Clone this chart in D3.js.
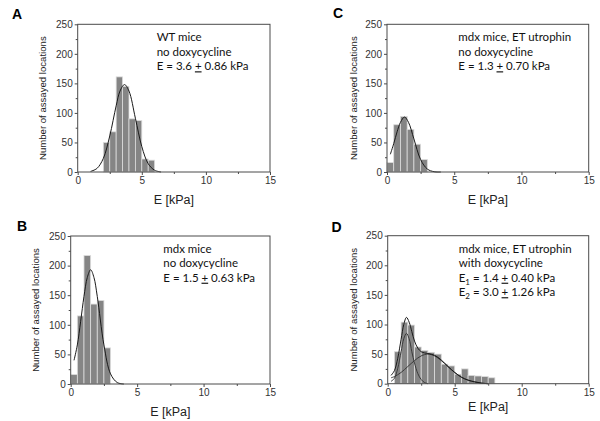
<!DOCTYPE html>
<html>
<head>
<meta charset="utf-8">
<script src="https://cdn.jsdelivr.net/npm/d3@7"></script>
<style>
  body { margin: 0; background: #fff; }
  svg { display: block; }
</style>
</head>
<body>
<div id="chart"></div>
<script>
// histogram bins are 0.5 kPa wide, first bin lower edge per panel
const binWidth = 0.5;
const startA = 2.0, countsA = [50, 68, 161, 145, 90, 87, 22, 20];
const startB = 0.0, countsB = [16, 115, 217, 135, 141, 61];
const startC = 0.0, countsC = [16, 80, 94, 72, 47, 21];
const startD = 0.5, countsD = [54, 104, 99, 62, 56, 53, 50, 33, 30, 16, 25, 14, 13, 12, 10];

// fitted curves, points
const fitAx = [1.0, 1.5, 2.0, 2.5, 3.0, 3.3, 3.65, 4.0, 4.5, 5.0, 5.5, 6.0, 6.5];
const fitAy = [1, 6, 23, 61, 112, 137, 148, 137, 91, 43, 14, 3, 0];
const fitBx = [0.25, 0.5, 0.75, 1.0, 1.25, 1.5, 1.75, 2.0, 2.5, 3.0, 3.5, 4.0];
const fitBy = [40, 66, 106, 148, 180, 193, 180, 148, 66, 17, 2.5, 0];
const fitCx = [0.25, 0.5, 0.75, 1.0, 1.3, 1.6, 2.0, 2.5, 3.0, 3.5, 4.0];
const fitCy = [30, 48, 68, 84, 93, 84, 56, 21, 5, 0.5, 0];
const fitDx = [0.25, 0.5, 0.75, 1.0, 1.2, 1.4, 1.6, 1.8, 2.0, 2.25, 2.5, 2.75, 3.0, 3.5, 4.0, 4.5, 5.0, 5.5, 6.0, 6.5, 7.0, 7.5];
const fitDy = [14, 22, 43, 75, 100, 112, 104, 88, 72, 60, 54, 52, 51, 48, 40, 29, 19, 11, 6, 3, 1, 0];
const peak1x = [0.25, 0.5, 0.75, 1.0, 1.2, 1.4, 1.6, 1.8, 2.0, 2.25, 2.5, 2.75, 3.0];
const peak1y = [4, 9, 26, 54, 76, 85, 76, 54, 35, 17, 7, 2, 0];
const peak2x = [0.25, 0.5, 1.0, 1.5, 2.0, 2.5, 3.0, 3.5, 4.0, 4.5, 5.0, 5.5, 6.0, 6.5, 7.0, 7.5];
const peak2y = [10, 12, 19, 29, 39, 47, 50, 47, 39, 29, 19, 11, 6, 3, 1, 0];

const xTicks = [0, 5, 10, 15], xMinor = [2.5, 7.5, 12.5];
const yTicks = [0, 50, 100, 150, 200, 250], yMinor = [25, 75, 125, 175, 225];

const notesA = ["WT mice", "no doxycycline", "E = 3.6 + 0.86 kPa"];
const notesB = ["mdx mice", "no doxycycline", "E = 1.5 + 0.63 kPa"];
const notesC = ["mdx mice, ET utrophin", "no doxycycline", "E = 1.3 + 0.70 kPa"];
const notesD = ["mdx mice, ET utrophin", "with doxycycline", "E_1 = 1.4 + 0.40 kPa", "E_2 = 3.0 + 1.26 kPa"];

const width = 600, height = 421;

const svg = d3.select("#chart").append("svg")
    .attr("width", width)
    .attr("height", height)
    .attr("font-family", "'Liberation Sans', Arial, sans-serif");

// frame boxes and text spots for each panel
const panels = [
  { letter: "A", lx: 12, ly: 18.7, box: [77.7, 270, 24.3, 172], start: startA, counts: countsA,
    fits: [[fitAx, fitAy]], notes: notesA, nx: 156.7, ny: 41.3, titleY: 204, ylabX: 42.7 },
  { letter: "B", lx: 17, ly: 230.7, box: [70.7, 270, 236, 384], start: startB, counts: countsB,
    fits: [[fitBx, fitBy]], notes: notesB, nx: 163.3, ny: 252.7, titleY: 416, ylabX: 35.7 },
  { letter: "C", lx: 333, ly: 17.7, box: [387, 588.7, 24.3, 172], start: startC, counts: countsC,
    fits: [[fitCx, fitCy]], notes: notesC, nx: 458.3, ny: 41.3, titleY: 204, ylabX: 353.3 },
  { letter: "D", lx: 331.5, ly: 231.7, box: [387.7, 588.7, 235.7, 383.7], start: startD, counts: countsD,
    fits: [[peak1x, peak1y], [peak2x, peak2y], [fitDx, fitDy]], notes: notesD, nx: 458.7, ny: 252.7, titleY: 411, ylabX: 353.3 }
];

panels.forEach(p => {
  const [x0, x1, y0, y1] = p.box;
  const x = d3.scaleLinear().domain([0, 15]).range([x0, x1]);
  const y = d3.scaleLinear().domain([0, 250]).range([y1, y0]);
  const g = svg.append("g");

  // bars
  g.append("g")
    .selectAll("rect")
    .data(p.counts)
    .join("rect")
      .attr("x", (d, i) => x(p.start + i * binWidth))
      .attr("y", d => y(d))
      .attr("width", x(binWidth) - x(0))
      .attr("height", d => y(0) - y(d))
      .attr("fill", "#858585")
      .attr("stroke", "#dcdcdc")
      .attr("stroke-width", 0.8);

  // fit curves
  const line = d3.line()
      .x(d => x(d[0]))
      .y(d => y(d[1]))
      .curve(d3.curveCatmullRom);
  p.fits.forEach(([fx, fy], k) => {
    g.append("path")
      .attr("d", line(fx.map((v, i) => [v, fy[i]])))
      .attr("fill", "none")
      .attr("stroke", k === p.fits.length - 1 ? "#1a1a1a" : "#3a3a3a")
      .attr("stroke-width", 1);
  });

  // frame
  g.append("rect")
    .attr("x", x0).attr("y", y0)
    .attr("width", x1 - x0).attr("height", y1 - y0)
    .attr("fill", "none")
    .attr("stroke", "#4a4a4a")
    .attr("stroke-width", 1);

  // axes
  const styleAxis = a => {
    a.select(".domain").remove();
    a.selectAll("line").attr("stroke", "#4a4a4a");
    a.selectAll("text").attr("fill", "#333").attr("font-size", 10);
  };
  g.append("g")
    .attr("transform", `translate(0,${y1})`)
    .call(d3.axisBottom(x).tickValues(xTicks).tickSize(3).tickPadding(2))
    .call(styleAxis);
  g.append("g")
    .attr("transform", `translate(0,${y1})`)
    .call(d3.axisBottom(x).tickValues(xMinor).tickSize(2).tickFormat(""))
    .call(styleAxis);
  g.append("g")
    .attr("transform", `translate(${x0},0)`)
    .call(d3.axisLeft(y).tickValues(yTicks).tickSize(3).tickPadding(2))
    .call(styleAxis);
  g.append("g")
    .attr("transform", `translate(${x0},0)`)
    .call(d3.axisLeft(y).tickValues(yMinor).tickSize(2).tickFormat(""))
    .call(styleAxis);

  // axis titles
  g.append("text")
    .attr("x", (x0 + x1) / 2)
    .attr("y", p.titleY)
    .attr("text-anchor", "middle")
    .attr("font-size", 12.5)
    .attr("fill", "#222")
    .text("E [kPa]");
  g.append("text")
    .attr("transform", `translate(${p.ylabX + 3.5},${(y0 + y1) / 2}) rotate(-90)`)
    .attr("text-anchor", "middle")
    .attr("font-size", 9.6)
    .attr("fill", "#222")
    .text("Number of assayed locations");

  // panel letter
  g.append("text")
    .attr("x", p.lx)
    .attr("y", p.ly)
    .attr("font-size", 14)
    .attr("font-weight", "bold")
    .text(p.letter);

  // annotation lines, "+" underlined, "_n" as subscript
  p.notes.forEach((str, i) => {
    const t = g.append("text")
      .attr("x", p.nx)
      .attr("y", p.ny + i * 14.5)
      .attr("font-family", "Lato, 'Open Sans', sans-serif")
      .attr("font-size", 11.5)
      .attr("fill", "#111");
    let shift = 0;
    str.split(/(_\d|\+)/).forEach(part => {
      if (!part) return;
      if (part[0] === "_") {
        t.append("tspan").attr("dy", 3).attr("font-size", 8).text(part.slice(1));
        shift = -3;
      } else {
        const s = t.append("tspan").attr("dy", shift).text(part);
        shift = 0;
        if (part === "+") s.style("text-decoration", "underline");
      }
    });
  });
});
</script>
</body>
</html>
